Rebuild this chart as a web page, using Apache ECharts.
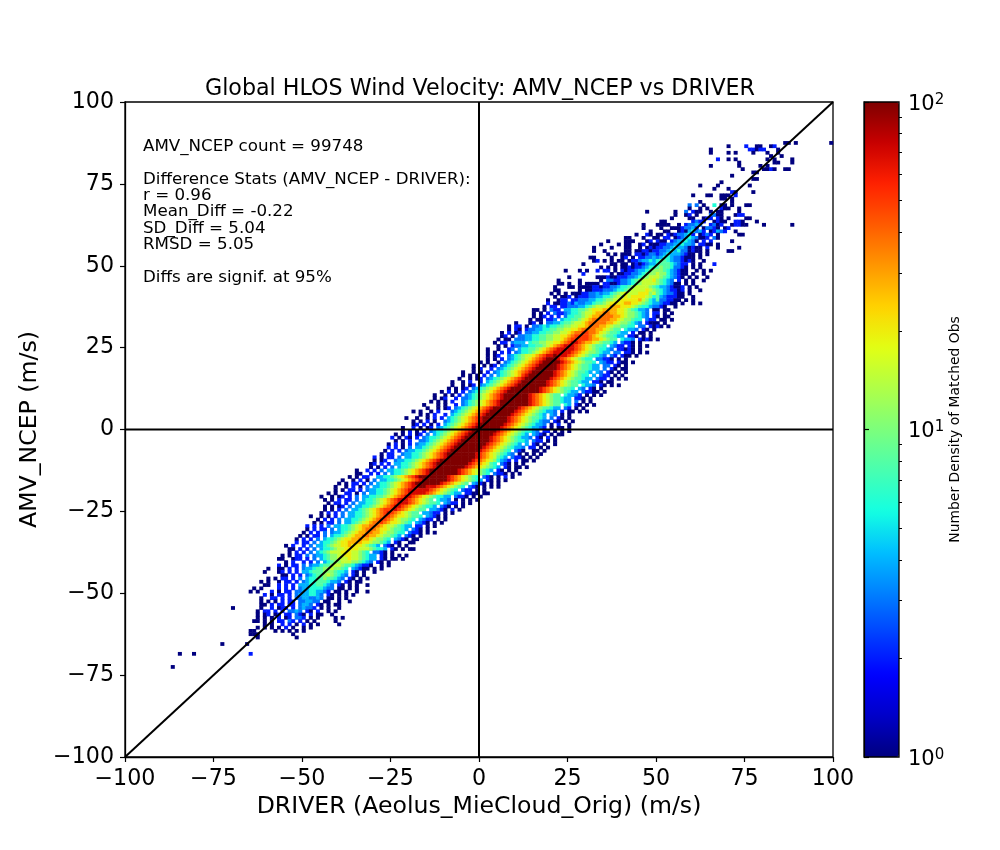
<!DOCTYPE html>
<html><head><meta charset="utf-8">
<style>html,body{margin:0;padding:0;background:#fff}#c{width:1000px;height:850px}</style>
<script src="https://cdn.jsdelivr.net/npm/echarts@6/dist/echarts.min.js"></script>
</head><body><div id="c"></div>
<script>
// Count represented by each cell code.
const levelCodes = "123456789abcde";
const levelCounts = [1,2,3,4,6,8,11,15,20,28,38,50,70,100];
const colorbarMinor = [2,3,4,5,6,7,8,9,20,30,40,50,60,70,80,90];
const diagonalLine = [[-100,-100],[100,100]];
const zeroVLine = [[0,-100],[0,100]];
const zeroHLine = [[-100,0],[100,0]];
const jetColors = ["#00007f","#0000c8","#0000ff","#0040ff","#0080ff","#00bfff","#14ffe2","#48ffb0","#7cff7c","#afff48","#e2ff14","#ffd200","#ff9700","#ff5b00","#ff2100","#c80000","#7f0000"];
const titleText = "Global HLOS Wind Velocity: AMV_NCEP vs DRIVER";
const xName = "DRIVER (Aeolus_MieCloud_Orig) (m/s)";
const yName = "AMV_NCEP (m/s)";
const barName = "Number Density of Matched Obs";
const statLines = ["AMV_NCEP count = 99748","","Difference Stats (AMV_NCEP - DRIVER):","r = 0.96","Mean_Diff = -0.22","SD_Diff = 5.04","RMSD = 5.05","","Diffs are signif. at 95%"];

// Each row: [y bin, x bin of first cell, cell codes left to right ('.' = empty)]
const rowsUpperTail = [
[87,86,"11.1.........1"],[86,70,"1....2..11..12"],[85,65,"1..........22122...1"],[84,65,"1....1.1....1...1..1"],
[83,82,"1..1"],[82,67,"2..1.1........1.1....1"],[81,73,"1.........11...1"],[80,65,"1.......1.....1.1"],
[79,74,"1.....1121..11"],[78,77,"11"],[77,71,"1"],[76,77,"11"],[75,68,"1"],[74,62,"1....1........1"],
[73,66,"1...1"],[72,71,"21....1"],[71,60,"1...11..111.2"],[70,68,"11.1"],[69,62,"1........1"],
[68,59,"3.3.1..5.11.1...11"],[67,59,"1..1.1...211..1"],[66,47,"1.......1..3.211..1.11....1"],[65,55,"1..12.1...3311...122"],
[64,54,"1....11..122.21.1....11"],[63,51,"11.......2322..1211..221...1"],[62,46,"1...1111..1.23343..2312..12211....1.......1"],
[61,46,"1....1..11123342.13321.12"],[60,48,"1...11..12145342.12432..1"],[59,44,"1..21.11.21233452.1232.1.....11"],
[58,41,"11...1..11.22.1234543112.31"],[57,36,"1....111...12.211.23445431.2.2.....1"],[56,34,"1....1.11..12.1112233445443.2211.1"],
];
const rowsUpperBand = [
[55,32,"1....1...11..1.1212233454431211.2..1.....1"],[54,32,"1..1.....11.1122122334545331211.1.....11"],
[53,36,"1.1.111.22123323454443211.1.1"],[52,31,"11....1..12.1.2233434554332111.1"],[51,32,"12.1.1.11.1223445456654332121..1"],
[50,29,"1.......11.11.1212344566654322.1.1...2"],[49,34,"1.1.1.1121223455676653321.1.1"],[48,24,"1...1.1..2.22.1.2122344567776543211..1.1.1"],
[47,29,"2.......1.11223345677877543211.1..1"],[46,25,"1.......1112112223345678887654321.1.1..1"],[45,22,"1.....1.....1.3322334567888976543.2.1.1..1"],
[44,22,"11.1..1.1111.2211233456788887654311.1.1"],[43,21,"1...11.111122122334556788887654432112.1.1"],[42,21,"11.....1.1122233345567888898765432212.1..1"],
[41,20,"1.1.1.11122334344567898889997865433211.1"],[40,21,"1.112.1222334455678798999987564322211..1"],
[39,19,"1..122.2233344556778899999a87546332211.1.1"],[38,19,"2.11223243344566789999aa9987654432211.1..1.1"],
[37,18,"1.22.22333445678889aaa9998765543321..1"],[36,15,"11.1.322.44556678999aaaa998765443.11.11"],
[35,15,"1.1.2.322345567889aabbaa998776543.22.1.1"],[34,15,"1.12.2.2.35566789aabbbbaa98776543.21.11"],
[33,14,"1.11.223.45566789abbbbbaa9877655.322.11.1"],[32,10,"1...12.1.33445667889abbbbbaa98776543.2111.1"],
[31,8,"1.22.1.334545566778899abbbaa98776655.33.2121.1"],[30,8,"1.21.233445566778899abbbbaa98766.5443.21.1"],
[29,6,"1.2.12.3344556677889abbccbba98766544.2.11.1"],[28,6,"12.1.33445566778899abccccba98766544.221.1.1"],
[27,4,".1.11.33344556677889abcccccbaa98766.5443.2121.1"],[26,4,"1.22.3444.566778899abcddcbaa9876654.3221.1"],
[25,5,"1.1.233445566789abcdddcba987665.4322.21.1.1"],[24,2,"1..1..23.45566789abcdddddcba98765543.22121.1"],
[23,2,"1.1.2.2.34556789abcdddddcba98776544.33.221.1.1"],[22,2,"1.12..34567889abcddedddcba98765543.32.211.1"],
[21,2,"1.1.2.3456789abcdeeedcba987655.33221.1.1"],[20,0,"1.1..1.3456789abcdeeeeedcba987665.4322.211.1"],
[19,-2,"1..1.12.3456789abcdeeeeedcba98766544.33.21.1"],[18,-2,"1.2..2.3456789abcdeeeeeedcba98766544.3.21.11"],
[17,-5,"1..1.1.2.3456789abcdeeeeeedcba9876654.43.21.1.1"],[16,-5,"1.1.1.2.3.456789acdeeeeeeedcba987655.4.322.1.1"],
[15,-6,"1..1.12.3456789abcdeeeeeeedcba98766544.322.1.1.1"],[14,-8,"1..1.2..2.456789abcdeeeeeeedcba98766544.221.11"],
[13,-8,"1..1.12.3456789abcdeeeeeeeedcba98766.5443.21.1.1"],[12,-9,"1.1.12.3456789abcdeeeeeeeedcba987665.43.21.1"],
[11,-11,"1.2.1.2.3456789abcdeeeeeeeeedcba9876544.32211.1"],[10,-13,"1..1.1.2.3456789abcdeeeeeeedcba98766.54432.1.1.1"],
[9,-13,"1.12..2.33456789abcdeeeeeeedcba98766544.221.1"],[8,-14,"1.1.1.2..3456789abcdeeeeeeeedcba98766544.3.1.1"],
[7,-16,"1...1.1..2.3456789abcdeeeeeeeedcba98766.54.21.1.1"],[6,-15,"1..1.12.3456789abcdeeeeeeedcba98766544.32.1.1"],
[5,-19,"1.1..1.2...3456789abcdeeeeeeedcba98765443.2.11.1.1"],[4,-17,"1.1.2..2.456789abcdeeeeeeedcba987654.43.1.1"],
[3,-21,"1..1..1.2.2.456789abcdeeeeeeedcba9876654.3.21.1"],[2,-19,"1.1.2.1..3456789abcdeeeeeeedcba98765433.21.1.1"],
[1,-19,"12.2.1.2.456789abcdeeeeeeedcba98765443.1.2..1"],[0,-22,"1..2.1.12.3456789abcdeeeeeeedcba987654432.1.11.1"],
];
const rowsLowerBand = [
[-1,-22,"1.2.1.2.34556789abcdeeeeeeedcba98765543.22.1.1.1"],[-2,-24,"1.1.2.12.3.456789abcdeeeeeeedcba987654.4321.1.11"],
[-3,-25,"2.1.21.2.34556789abcdeeeeeeedcba98765443.21.2.1"],[-4,-24,"1.1.2..33456789abcdeeeeeeeedcba9876554.322.1.1"],
[-5,-26,"1.2.1.2.34456789abcdeeeeeeeedcba987654.4.21.1..1"],[-6,-26,"2.2.1.3.4456789abcdeeeeeeeedcba98765443.22.1.1"],
[-7,-27,"1.2.2.344556789abcdeeeeeeeedcba98765.321..11.1"],[-8,-28,"1.22..344556789abcdeeeeeeeedcba9876543.1.1.1.1"],
[-9,-30,"2.1.22.3.44556789abcdeeeeeeeedcba98654.3221.1.1"],[-10,-30,"1.12..344556789abcdeeeeeeeeedcba9875432.2.11.1"],
[-11,-31,"12.2.2.44556789abcdeeeeeeeeedcba9865.321.1.1"],[-12,-31,"1.1.2.3.4556789abcdeeeeeeeedcba987654.21.11.1"],
[-13,-35,"1..2.2.3.44556789abcdeeeeeeeedcba987654.21.1.1"],[-14,-35,"11..2.2.3.4556789abcdeeeeeeeedcba98765.3221.1.1"],
[-15,-37,"1.1.22..44556789abcdeeeeeeeedcba98765.321.1.2.1"],[-16,-39,"1..1.2.1.3.44556789abcdeeeeeeedcba987654.21.1.1"],
[-17,-40,"1.1.22.2.3.4556789abcdeeeeeeedcba9876.4321.1.1"],[-18,-41,"1..1.2.1.3.44556789abcddeedddcba98765.321.1.1.1"],
[-19,-41,"1.1.22.2.344556789abcddddddcba98765.322.1.1"],[-20,-43,"1.1..22.1.3.44556789abcdddddcba9876544.2211.11"],
[-21,-45,"1..1.12.2.3.445566789abcddcba98765544.3221.1.1"],[-22,-44,"1.1.2.22.3.4556789abcdddcba9876.5443.1.1.1.1"],
[-23,-43,"1.22.2.3.44556789abcdddcba987665.4322.1.1"],[-24,-44,"1.1.12.3.44556789abcddcba9876554.321.1.1"],
[-25,-44,"1.1.2.3.4456789abcccdcba98766.44321.2.1"],[-26,-45,"1.2.2.3.44556789abcdcba98766.44322.1.1"],
[-27,-48,"1..1.1.2.3.44556789abccba9987665.4321.1"],[-28,-46,"1.2.2.3.44556789abccba987765.4322.1.1"],
[-29,-47,"1.1.22.3.4456789abbcba998765.4321.1.1"],[-30,-49,"2.2.2.3.44556789aabbba98876544.22.1.1"],
[-31,-49,"1.2.22.3.4556789abbba99876654.321.1"],[-32,-50,"1.2.2.3.34456789aabbaa9877655.3221.1.1"],
[-33,-51,"1.1.22.3.4556789aabbaa9877654.321.1"],[-34,-52,"1.2.2.3.45567899aabaa987765.4321.11"],
[-35,-52,"2.22.3.45567899aaaa99877654.21..11"],[-36,-55,"1.2..2.3.445678899a99987654.321.1.1"],
[-37,-54,"11.2.2.3.4556788999988876554.21.1.11"],[-38,-54,"1.2.2.3.456788899988765.3321.1"],
[-39,-56,"1.1.22.3.344567788998876544.21.1.1.1"],[-40,-57,"11..122.2.3.4567788898876544.21.11.1"],
[-41,-55,"1.2..2.2.3.45677888776543.21.1"],[-42,-57,"2.1.22.3.344566788766543221..1.1"],
[-43,-60,"1..11.2.2.3445667787765.43211.1.1"],[-44,-61,"1...12.2.2.4456667776554.21.1..1"],
[-45,-56,"11.2.2.345667876543.21.1"],[-46,-60,"1.1.22.2.3.45566766543.21.1.1"],
];
const rowsLowerTail = [
[-47,-62,"1.1..1.22.2.34556665443.21.11"],[-48,-61,"11..2.2.2.4445566543.21.1.1..1"],[-49,-64,"1.1....2.2.2.3445555433.11.1.1"],
[-50,-65,"1.1...2.1.22.3344554432.11.1..1..1"],[-51,-61,"2.1.22.2.34445543.21.1.1.1"],[-52,-62,"1..22.2.2.33443343.11.1.1"],
[-53,-62,"1.1.1.2.22.334433.11..1..1"],[-54,-62,"11.2.22.22.3443.21.1.11"],[-55,-70,"1.......1..2.122.2.34332.1.1..1"],
[-56,-63,"1.22.2.2.3343.21.2..1.1"],[-57,-63,"1.12.12.22.321.2.11..1"],[-58,-63,"1.1.1.2.12.332.1.1....1.1"],
[-59,-64,"11.1.1.22.32.2.1.1.....1"],[-60,-61,"1.1..2.2.1.2.1.1.....1"],[-61,-63,"1.1.1.1.2.1..1.1"],[-62,-65,"11.....1.1.1.1.1"],
[-63,-65,"111.........1"],[-64,-63,"1..........1"],[-66,-73,"1......1"],[-69,-85,"1...1...............2"],[-73,-87,"1"],
];

const xBins = [], yBins = [];
for (let v = -100; v < 100; v++) { xBins.push(String(v)); yBins.push(String(v)); }
const cells = [];
[rowsUpperTail, rowsUpperBand, rowsLowerBand, rowsLowerTail].forEach(function (group) {
  group.forEach(function (row) {
    for (let i = 0; i < row[2].length; i++) {
      const k = levelCodes.indexOf(row[2][i]);
      if (k < 0) continue;
      const x = row[1] + i;
      if (x < -100 || x > 99) continue;
      cells.push([x + 100, row[0] + 100, Math.log10(levelCounts[k])]);
    }
  });
});

const FONT = "DejaVu Sans";
const minus = v => String(v).replace("-", "\u2212");
const chart = echarts.init(document.getElementById("c"), null, {renderer: "canvas"});
const valueAxisBase = {
  type: "value", min: -100, max: 100, interval: 25, gridIndex: 0,
  splitLine: {show: false},
  axisLine: {show: true, onZero: false, lineStyle: {color: "#000", width: 1.3}},
  axisTick: {show: true, length: 5, lineStyle: {color: "#000", width: 1.2}},
  axisLabel: {color: "#000", fontFamily: FONT, fontSize: 22.2, margin: 11, formatter: minus},
  nameLocation: "middle",
  nameTextStyle: {color: "#000", fontFamily: FONT, fontSize: 23.6}
};
const yTickLabel = Object.assign({}, valueAxisBase.axisLabel, {padding: [3, 0, 0, 0]});
chart.setOption({
  animation: false,
  backgroundColor: "#fff",
  title: {text: titleText, left: 475, top: 73, textAlign: "center",
    textStyle: {color: "#000", fontFamily: FONT, fontSize: 22.2, fontWeight: "normal"}},
  grid: [
    {left: 125, top: 102, width: 708, height: 655, show: true, borderColor: "#000", borderWidth: 1.3, backgroundColor: "#fff"},
    {left: 864, top: 102, width: 35, height: 655, show: true, borderColor: "#000", borderWidth: 1.3, backgroundColor: "transparent", z: 10}
  ],
  xAxis: [
    Object.assign({}, valueAxisBase, {name: xName, nameGap: 38}),
    {type: "category", data: xBins, gridIndex: 0, show: false, boundaryGap: true},
    {type: "value", gridIndex: 1, show: false, min: 0, max: 1}
  ],
  yAxis: [
    Object.assign({}, valueAxisBase, {name: yName, nameGap: 77, axisLabel: yTickLabel}),
    {type: "category", data: yBins, gridIndex: 0, show: false, boundaryGap: true},
    {type: "log", logBase: 10, gridIndex: 1, min: 1, max: 100, position: "right", z: 11,
     splitLine: {show: false},
     axisLine: {show: true, lineStyle: {color: "#000", width: 1.2}},
     axisTick: {show: true, length: 5, lineStyle: {color: "#000", width: 1.2}},
     minorTick: {show: false},
     axisLabel: {margin: 9, color: "#000", fontFamily: FONT,
       formatter: function (v) { return "{b|10}{s|" + Math.round(Math.log10(v)) + "}"; },
       rich: {b: {fontFamily: FONT, fontSize: 21, color: "#000", padding: [5,0,0,0]}, s: {fontFamily: FONT, fontSize: 15, color: "#000", padding: [0,0,4,0]}}},
     name: barName, nameLocation: "middle", nameGap: 47, nameRotate: 90,
     nameTextStyle: {color: "#000", fontFamily: FONT, fontSize: 13.9}},
    {type: "log", logBase: 10, gridIndex: 1, min: 1, max: 100, position: "right", z: 11,
     splitLine: {show: false},
     axisLine: {show: false},
     axisLabel: {show: false},
     axisTick: {show: true, length: 3, customValues: colorbarMinor, lineStyle: {color: "#000", width: 1}}}
  ],
  visualMap: {
    type: "continuous", seriesIndex: 0, dimension: 2, min: 0, max: 2,
    left: 864, top: 102, itemWidth: 35, itemHeight: 655, padding: 0, calculable: false,
    hoverLink: false, text: null, inRange: {color: jetColors}, z: 4
  },
  graphic: [{type: "text", left: 143, top: 138, z: 20,
    style: {text: statLines.join("\n"), fontFamily: FONT, fontSize: 16.7, lineHeight: 16.35, fill: "#000"}}],
  series: [
    {type: "heatmap", xAxisIndex: 1, yAxisIndex: 1, data: cells, z: 2, progressive: 0, emphasis: {disabled: true}, itemStyle: {borderWidth: 0}},
    {type: "line", xAxisIndex: 0, yAxisIndex: 0, data: diagonalLine, z: 6, showSymbol: false, symbol: "none", lineStyle: {color: "#000", width: 2}},
    {type: "line", xAxisIndex: 0, yAxisIndex: 0, data: zeroVLine, z: 6, showSymbol: false, symbol: "none", lineStyle: {color: "#000", width: 2}},
    {type: "line", xAxisIndex: 0, yAxisIndex: 0, data: zeroHLine, z: 6, showSymbol: false, symbol: "none", lineStyle: {color: "#000", width: 2}},
    {type: "line", xAxisIndex: 2, yAxisIndex: 3, data: [], showSymbol: false}
  ]
});
</script></body></html>
